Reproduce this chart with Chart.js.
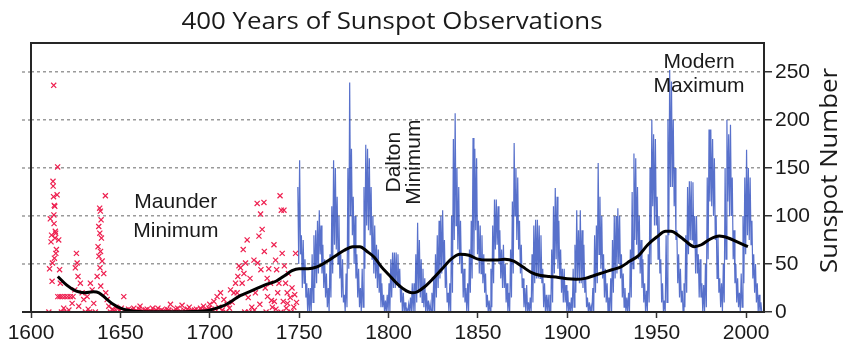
<!DOCTYPE html>
<html>
<head>
<meta charset="utf-8">
<title>400 Years of Sunspot Observations</title>
<script src="https://cdn.jsdelivr.net/npm/chart.js@4.4.1/dist/chart.umd.min.js"></script>
<style>
  html, body { margin: 0; padding: 0; background: #fff; }
  canvas { display: block; }
</style>
</head>
<body>
<canvas id="sunspotChart" width="850" height="349"></canvas>
<script>
// Axis ticks
const yearTicks = [1600, 1650, 1700, 1750, 1800, 1850, 1900, 1950, 2000];
const countTicks = [0, 50, 100, 150, 200, 250];

// Early telescopic observations 1610-1749 (group numbers)
const earlyYears = [
  1610.0, 1610.4, 1610.8, 1611.2, 1611.5, 1611.8, 1612.0, 1612.3, 1612.4, 1612.6,
  1612.7, 1612.8, 1612.9, 1613.0, 1613.1, 1613.3, 1613.4, 1613.6, 1613.8, 1613.9,
  1614.2, 1614.6, 1614.9, 1615.0, 1615.5, 1616.0, 1616.2, 1616.4, 1617.0, 1617.5,
  1618.3, 1619.0, 1620.0, 1620.5, 1621.2, 1622.0, 1623.0, 1623.5, 1624.5, 1624.8,
  1625.4, 1625.8, 1626.3, 1626.7, 1627.6, 1628.6, 1629.5, 1630.4, 1631.4, 1632.0,
  1632.8, 1633.2, 1634.2, 1635.1, 1636.0, 1637.0, 1637.5, 1637.9, 1638.0, 1638.4,
  1638.5, 1638.6, 1638.8, 1638.9, 1639.0, 1639.2, 1639.4, 1639.8, 1640.7, 1641.6,
  1641.8, 1642.6, 1643.5, 1644.4, 1645.5, 1646.5, 1647.5, 1648.5, 1649.5, 1650.5,
  1651.9, 1652.5, 1653.5, 1654.5, 1655.5, 1656.5, 1657.5, 1658.5, 1659.5, 1660.5,
  1661.0, 1662.0, 1663.0, 1664.0, 1665.0, 1666.0, 1667.0, 1668.0, 1669.0, 1670.0,
  1671.0, 1672.0, 1673.0, 1674.0, 1675.0, 1676.0, 1677.0, 1678.0, 1679.0, 1680.0,
  1681.0, 1682.0, 1683.0, 1684.5, 1685.5, 1686.5, 1687.5, 1688.5, 1689.5, 1690.5,
  1691.5, 1692.5, 1693.5, 1694.8, 1695.5, 1696.5, 1697.5, 1698.5, 1699.5, 1700.0,
  1701.0, 1702.3, 1703.0, 1704.1, 1705.0, 1706.0, 1707.0, 1707.9, 1709.0, 1709.7,
  1711.0, 1711.6, 1712.5, 1713.5, 1714.4, 1715.3, 1715.7, 1716.3, 1717.2, 1718.1,
  1718.7, 1719.1, 1720.0, 1720.9, 1721.5, 1722.5, 1723.5, 1724.7, 1725.5, 1726.5,
  1726.8, 1727.5, 1728.4, 1728.6, 1729.3, 1730.3, 1730.5, 1731.0, 1732.1, 1732.3,
  1733.0, 1734.0, 1735.0, 1735.9, 1736.1, 1736.8, 1737.4, 1738.0, 1738.7, 1739.3,
  1740.0, 1740.5, 1741.1, 1741.5, 1741.7, 1742.4, 1743.3, 1743.5, 1744.0, 1745.0,
  1746.0, 1747.0, 1748.0, 1748.5, 1719.5, 1722.0, 1725.0, 1728.0, 1731.5, 1734.5,
  1737.0, 1739.8, 1742.8, 1745.5, 1747.5
];
const earlyValues = [
  0, 45, 97, 73, 80, 32, 51, 136, 131, 120,
  236, 101, 92, 111, 56, 110, 77, 84, 82, 61,
  65, 122, 151, 16, 75, 44, 16, 30, 0, 16,
  4, 16, 0, 16, 2, 16, 9, 16, 23, 46,
  61, 51, 37, 6, 30, 20, 13, 0, 16, 3,
  0, 30, 23, 9, 0, 37, 68, 89, 58, 108,
  82, 46, 105, 63, 27, 96, 77, 53, 40, 121,
  20, 13, 6, 0, 3, 1, 5, 0, 2, 4,
  16, 1, 0, 3, 2, 0, 4, 1, 0, 3,
  6, 1, 0, 2, 3, 0, 1, 4, 0, 2,
  4, 0, 2, 1, 0, 3, 2, 8, 0, 1,
  3, 4, 0, 7, 2, 0, 3, 5, 1, 0,
  2, 3, 0, 4, 1, 6, 2, 0, 4, 8,
  3, 11, 0, 16, 5, 20, 2, 13, 0, 8,
  4, 23, 10, 20, 30, 20, 37, 48, 46, 30,
  65, 40, 51, 75, 15, 35, 5, 54, 20, 113,
  51, 79, 102, 44, 86, 114, 63, 25, 35, 16,
  45, 30, 5, 70, 11, 54, 44, 20, 30, 121,
  106, 61, 11, 106, 48, 30, 20, 9, 40, 15,
  25, 5, 61, 10, 0, 0, 2, 8, 0, 12,
  3, 0, 4, 0, 18
];

// Monthly record 1749-2008, given as the highest and lowest month of each year
const firstYear = 1749;
const yearHigh = [
  130, 158, 80, 75, 55, 30, 25, 25, 60, 80,
  85, 95, 106, 90, 70, 55, 40, 25, 60, 110,
  158, 150, 120, 100, 60, 55, 18, 40, 150, 239,
  170, 120, 100, 60, 45, 25, 45, 130, 174, 170,
  160, 130, 100, 90, 70, 65, 40, 30, 18, 12,
  18, 30, 55, 62, 62, 62, 60, 45, 25, 20,
  10, 3, 8, 15, 30, 30, 60, 93, 75, 55,
  45, 35, 20, 12, 8, 20, 35, 60, 80, 95,
  100, 106, 75, 50, 20, 30, 100, 180, 207, 150,
  130, 95, 60, 45, 25, 30, 65, 95, 181, 170,
  160, 95, 90, 80, 60, 40, 18, 12, 45, 90,
  117, 117, 110, 85, 65, 70, 50, 30, 20, 65,
  115, 176, 150, 140, 95, 70, 35, 25, 28, 10,
  15, 60, 90, 96, 96, 90, 80, 45, 30, 18,
  18, 18, 65, 110, 129, 120, 95, 65, 45, 45,
  28, 22, 10, 15, 45, 70, 106, 85, 106, 85,
  70, 35, 15, 10, 6, 25, 80, 90, 155, 120,
  100, 60, 45, 30, 15, 35, 75, 100, 100, 108,
  100, 60, 40, 25, 15, 20, 65, 125, 165, 160,
  130, 100, 75, 55, 30, 22, 60, 150, 200, 185,
  180, 120, 100, 55, 30, 12, 80, 200, 252, 240,
  200, 150, 85, 60, 45, 22, 30, 80, 130, 136,
  136, 135, 100, 100, 60, 55, 30, 28, 50, 140,
  190, 190, 180, 160, 100, 80, 35, 30, 50, 150,
  200, 185, 195, 140, 85, 50, 35, 20, 40, 100,
  140, 169, 150, 140, 95, 60, 50, 30, 18, 10
];
const yearLow = [
  50, 60, 25, 30, 15, 0, 0, 0, 10, 25,
  30, 40, 60, 40, 25, 15, 5, 0, 15, 40,
  70, 65, 50, 35, 15, 10, 0, 5, 45, 100,
  80, 50, 35, 15, 5, 0, 5, 45, 90, 85,
  80, 55, 40, 35, 25, 20, 5, 5, 0, 0,
  0, 0, 15, 25, 25, 30, 25, 10, 0, 0,
  0, 0, 0, 0, 0, 0, 10, 20, 15, 10,
  5, 0, 0, 0, 0, 0, 0, 15, 25, 35,
  40, 45, 25, 10, 0, 0, 20, 75, 90, 65,
  50, 40, 15, 10, 0, 0, 20, 35, 55, 85,
  60, 40, 40, 30, 20, 5, 0, 0, 5, 30,
  65, 70, 50, 35, 25, 25, 10, 0, 0, 15,
  40, 100, 75, 65, 40, 25, 5, 0, 0, 0,
  0, 10, 30, 35, 35, 35, 30, 5, 0, 0,
  0, 0, 10, 40, 55, 45, 35, 20, 10, 10,
  0, 0, 0, 0, 5, 20, 35, 30, 30, 25,
  20, 5, 0, 0, 0, 0, 20, 30, 60, 45,
  35, 15, 10, 0, 0, 0, 20, 35, 40, 50,
  35, 15, 5, 0, 0, 0, 15, 45, 75, 70,
  55, 40, 25, 10, 0, 0, 10, 50, 110, 90,
  90, 55, 40, 10, 0, 0, 10, 80, 130, 130,
  110, 75, 30, 15, 10, 0, 5, 20, 60, 75,
  75, 70, 40, 40, 15, 15, 0, 0, 5, 55,
  115, 110, 100, 75, 35, 20, 5, 0, 10, 55,
  115, 100, 100, 55, 30, 10, 5, 0, 5, 30,
  60, 80, 75, 70, 35, 20, 10, 0, 0, 0
];

// Long-term smoothed trend
const trendYears = [
  1615, 1620, 1625, 1630, 1635, 1638, 1642, 1646, 1650, 1655,
  1660, 1670, 1680, 1690, 1697, 1702, 1707, 1712, 1717, 1722,
  1727, 1732, 1737, 1742, 1746, 1750, 1755, 1760, 1765, 1770,
  1775, 1780, 1784, 1788, 1792, 1796, 1800, 1805, 1810, 1813,
  1816, 1820, 1825, 1830, 1835, 1840, 1845, 1850, 1855, 1860,
  1865, 1870, 1875, 1880, 1885, 1890, 1895, 1900, 1905, 1910,
  1915, 1920, 1925, 1930, 1935, 1940, 1945, 1950, 1955, 1958,
  1962, 1966, 1971, 1975, 1980, 1985, 1990, 1995, 2001
];
const trendValues = [
  37, 28, 22, 20, 21, 20, 14, 8, 4, 1.5,
  0.5, 0.3, 0.3, 0.5, 1, 3, 6, 11, 17, 21,
  25, 29, 32, 38, 43, 45, 45, 47, 52, 58,
  64, 68, 68, 63, 57, 47, 39, 29, 22, 20,
  21, 26, 35, 45, 55, 60, 59, 55, 54, 54,
  55, 53, 47, 41, 38, 37, 36, 34.5, 34, 35,
  38, 41, 44, 47, 53, 59, 70, 78, 84, 84,
  80, 74, 68, 70, 76, 79, 77, 73, 68
];

// Labels placed on the plot
const notes = [
  { lines: ['Maunder', 'Minimum'], year: 1681, value: 99, gap: 28.5, vertical: false },
  { lines: ['Dalton', 'Minimum'], year: 1808.5, value: 156, gap: 20, vertical: true },
  { lines: ['Modern', 'Maximum'], year: 1973.7, value: 248, gap: 24, vertical: false }
];

const earlyPoints = earlyYears.map((yr, i) => ({ x: yr, y: earlyValues[i] }));
const monthlyPoints = [];
yearHigh.forEach((hi, i) => {
  monthlyPoints.push({ x: firstYear + i + 0.25, y: hi });
  monthlyPoints.push({ x: firstYear + i + 0.75, y: yearLow[i] });
});
const trendPoints = trendYears.map((yr, i) => ({ x: yr, y: trendValues[i] }));

// Draws the frame, grid stubs, titles and the named minima/maxima
const chartDecor = {
  id: 'chartDecor',
  beforeDatasetsDraw(chart) {
    const { ctx, chartArea: a, scales: { y } } = chart;
    ctx.save();
    ctx.strokeStyle = '#9a9a9a';
    ctx.lineWidth = 1.5;
    ctx.setLineDash([3, 3]);
    countTicks.forEach(v => {
      if (v === 0) return;
      const py = Math.round(y.getPixelForValue(v));
      ctx.beginPath();
      ctx.moveTo(a.left - 9, py);
      ctx.lineTo(a.left, py);
      ctx.stroke();
    });
    ctx.restore();
  },
  afterDraw(chart) {
    const { ctx, chartArea: a, scales: { x, y } } = chart;
    ctx.save();

    // plot frame
    ctx.strokeStyle = '#262626';
    ctx.lineWidth = 2;
    ctx.strokeRect(a.left, a.top, a.right - a.left, a.bottom - a.top);
    ctx.beginPath();
    ctx.moveTo(a.left - 9, a.bottom);
    ctx.lineTo(a.left, a.bottom);
    ctx.stroke();

    // chart title
    ctx.fillStyle = '#1a1a1a';
    ctx.font = '23px "Open Sans", sans-serif';
    ctx.textAlign = 'center';
    ctx.textBaseline = 'alphabetic';
    const title = '400 Years of Sunspot Observations';
    let w = ctx.measureText(title).width;
    ctx.save();
    ctx.translate(392, 29);
    ctx.scale(421 / w, 1);
    ctx.fillText(title, 0, 0);
    ctx.restore();

    // right axis title
    ctx.font = '24px "Open Sans", sans-serif';
    const axisTitle = 'Sunspot Number';
    w = ctx.measureText(axisTitle).width;
    ctx.save();
    ctx.translate(837, 170.5);
    ctx.rotate(-Math.PI / 2);
    ctx.scale(205 / w, 1);
    ctx.fillText(axisTitle, 0, 0);
    ctx.restore();

    // annotations
    ctx.font = '21px "Liberation Sans", Arial, sans-serif';
    ctx.textBaseline = 'middle';
    notes.forEach(n => {
      const px = x.getPixelForValue(n.year);
      const py = y.getPixelForValue(n.value);
      ctx.save();
      ctx.translate(px, py);
      if (n.vertical) ctx.rotate(-Math.PI / 2);
      n.lines.forEach((line, i) => {
        const off = (i - (n.lines.length - 1) / 2) * n.gap;
        ctx.fillText(line, 0, off);
      });
      ctx.restore();
    });

    ctx.restore();
  }
};

const ctx = document.getElementById('sunspotChart').getContext('2d');
new Chart(ctx, {
  type: 'line',
  data: {
    datasets: [
      {
        label: 'Smoothed',
        data: trendPoints,
        borderColor: '#000000',
        borderWidth: 3,
        pointRadius: 0,
        tension: 0.4,
        cubicInterpolationMode: 'monotone',
        order: 0
      },
      {
        label: 'Monthly',
        data: monthlyPoints,
        borderColor: 'rgba(46, 78, 190, 0.8)',
        borderWidth: 1.2,
        pointRadius: 0,
        tension: 0,
        order: 1
      },
      {
        label: 'Early observations',
        data: earlyPoints,
        showLine: false,
        pointStyle: 'crossRot',
        pointRadius: 3.6,
        pointBorderWidth: 1.2,
        borderColor: '#ee1f4f',
        backgroundColor: '#ee1f4f',
        order: 2
      }
    ]
  },
  options: {
    responsive: false,
    animation: false,
    devicePixelRatio: 1,
    layout: { padding: { left: 31, top: 43, right: 0, bottom: 0 } },
    plugins: {
      legend: { display: false },
      tooltip: { enabled: false },
      title: { display: false }
    },
    scales: {
      x: {
        type: 'linear',
        position: 'bottom',
        min: 1600,
        max: 2010,
        afterBuildTicks: axis => { axis.ticks = yearTicks.map(v => ({ value: v })); },
        afterFit: axis => { axis.height = 37; },
        grid: {
          drawOnChartArea: false,
          drawTicks: true,
          tickLength: 6,
          tickColor: '#333333',
          tickWidth: 1.5
        },
        border: { display: false },
        ticks: {
          autoSkip: false,
          maxRotation: 0,
          padding: 3,
          color: '#1a1a1a',
          font: { family: '"Liberation Sans", Arial, sans-serif', size: 21 },
          callback: v => String(v)
        }
      },
      y: {
        type: 'linear',
        position: 'right',
        min: 0,
        max: 280,
        afterBuildTicks: axis => { axis.ticks = countTicks.map(v => ({ value: v })); },
        afterFit: axis => { axis.width = 86; },
        grid: {
          color: c => (c.tick && c.tick.value === 0 ? 'rgba(0,0,0,0)' : '#9a9a9a'),
          lineWidth: 1.5,
          drawTicks: true,
          tickLength: 8,
          tickColor: '#333333',
          tickWidth: 1.5,
          tickBorderDash: []
        },
        border: { display: false, dash: [3, 3] },
        ticks: {
          padding: 3,
          color: '#1a1a1a',
          font: { family: '"Liberation Sans", Arial, sans-serif', size: 21 },
          callback: v => String(v)
        }
      }
    }
  },
  plugins: [chartDecor]
});
</script>
</body>
</html>
